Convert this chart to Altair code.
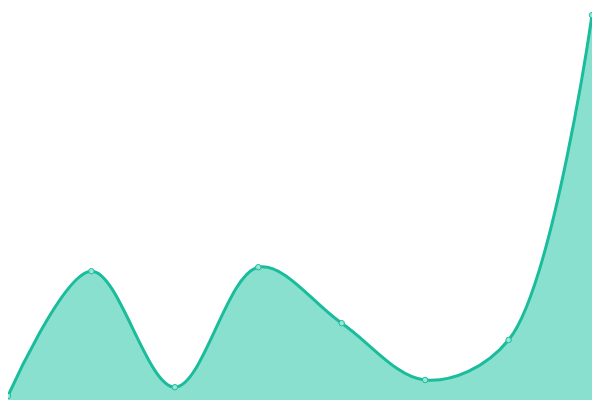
import altair as alt
import pandas as pd

idx = [0, 1, 2, 3, 4, 5, 6, 7]
values = [10, 322, 32, 332, 192, 50, 150, 962]

df = pd.DataFrame({"i": idx, "v": values})

xs = alt.Scale(domain=[0, 7], nice=False, zero=False)
ys = alt.Scale(domain=[0, 980], nice=False)

base = alt.Chart(df).encode(
    x=alt.X("i:Q", scale=xs, axis=None),
    y=alt.Y("v:Q", scale=ys, axis=None),
)

area = base.mark_area(interpolate="catmull-rom", color="#8ae0cf", opacity=1)
line = base.mark_line(interpolate="catmull-rom", color="#1abc9c", strokeWidth=3)
pts = base.mark_point(filled=True, fill="#9be5d6", stroke="#1abc9c", strokeWidth=1, size=30, opacity=1)

chart = (area + line + pts).properties(
    width=584, height=392, autosize=alt.AutoSizeParams(type="none"), padding=0
).configure_view(stroke=None)

chart.save("out.html", embed_options={"renderer": "svg", "actions": False})
